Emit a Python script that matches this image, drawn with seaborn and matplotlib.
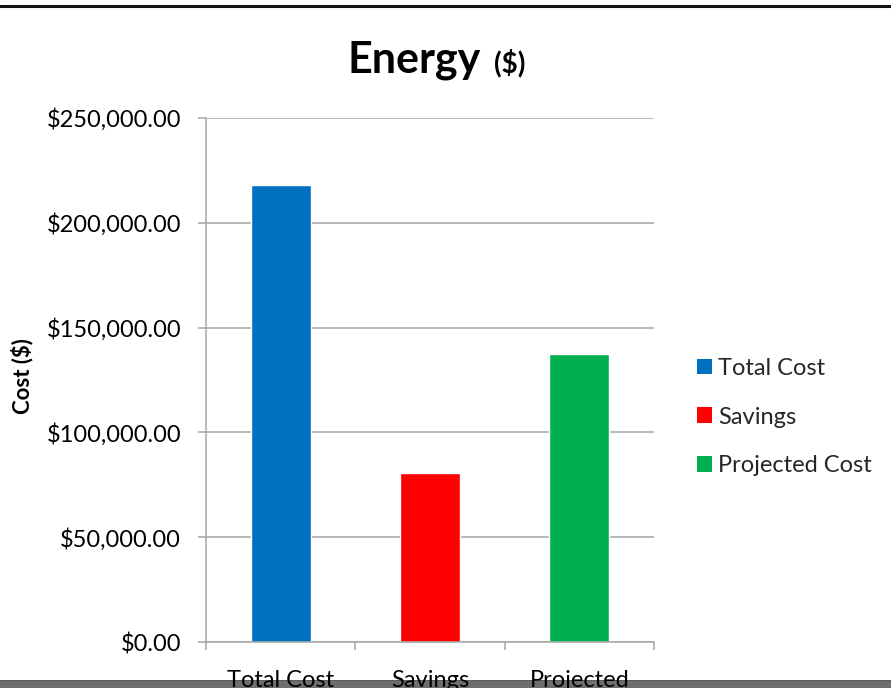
import matplotlib
matplotlib.use("Agg")
import matplotlib.pyplot as plt
import matplotlib.ticker as mticker
from matplotlib.patches import Rectangle, Patch
from matplotlib.lines import Line2D
import seaborn as sns
import pandas as pd

categories = ["Total Cost", "Savings", "Projected Cost"]
tick_labels = ["Total Cost", "Savings", "Projected"]
costs = [218000, 80600, 137500]
colors = ["#0070C0", "#FF0000", "#00B050"]

sns.set_theme(style="white")
plt.rcParams["font.family"] = ["Lato", "DejaVu Sans"]

df = pd.DataFrame({"item": categories, "cost": costs})

fig = plt.figure(figsize=(8.91, 6.88), dpi=100)
ax = fig.add_axes([206 / 891, 1 - 642 / 688, (654 - 206) / 891, (642 - 118) / 688])
ax.set_facecolor("none")

sns.barplot(data=df, x="item", y="cost", hue="item", order=categories,
            hue_order=categories, palette=colors, width=0.4, dodge=False,
            legend=False, ax=ax, saturation=1)

grid_c = "#A6A6A6"
ax.set_ylim(0, 250000)
ax.set_xlim(-0.5, 2.5)
ax.yaxis.set_major_locator(mticker.MultipleLocator(50000))
ax.yaxis.set_major_formatter(mticker.StrMethodFormatter("${x:,.2f}"))
ax.grid(axis="y", color=grid_c, linewidth=1.1)
ax.set_axisbelow(True)

ax.set_xticks(range(len(categories)))
ax.set_xticklabels(tick_labels)
ax.set_xticks([-0.5, 0.5, 1.5, 2.5], minor=True)
ax.tick_params(axis="x", which="major", length=0, pad=20.5, labelsize=17, labelcolor="#000000")
ax.tick_params(axis="x", which="minor", length=6, width=1.1, color=grid_c, direction="out")
ax.tick_params(axis="y", which="major", length=6, width=1.1, color=grid_c, direction="out",
               pad=12, labelsize=17, labelcolor="#000000")
ax.tick_params(bottom=True, left=True, which="both")

for side in ["top", "right"]:
    ax.spines[side].set_visible(False)
for side in ["left", "bottom"]:
    ax.spines[side].set_color(grid_c)
    ax.spines[side].set_linewidth(1.1)

ax.set_xlabel("")
ax.set_ylabel("")
fig.text(22 / 891, 1 - 376 / 688, "Cost ($)", rotation=90, fontsize=16,
         fontweight="bold", ha="center", va="center", color="#000000")

# Title in two sizes
fig.text(414 / 891, 1 - 73 / 688, "Energy", fontsize=31, fontweight="bold",
         ha="center", va="baseline", color="#000000")
fig.text(510 / 891, 1 - 72 / 688, "($)", fontsize=20, fontweight="bold",
         ha="center", va="baseline", color="#000000")

# Legend on the right
handles = [Patch(facecolor=c, edgecolor="none") for c in colors]
fig.legend(handles, categories, loc="center left",
           bbox_to_anchor=(697 / 891, 1 - 417 / 688), frameon=False,
           fontsize=17, handlelength=0.64, handleheight=0.64, handletextpad=0.25,
           labelspacing=1.18, borderaxespad=0, borderpad=0)

# Frame lines of the sheet
fig.add_artist(Line2D([0, 1], [1 - 6 / 688, 1 - 6 / 688], color="#111111",
                      linewidth=2.2, transform=fig.transFigure))
fig.patches.append(Rectangle((0, 0), 1, 7 / 688, transform=fig.transFigure,
                             facecolor="#6E6E6E", edgecolor="none", zorder=-1))
fig.add_artist(Line2D([0, 1], [7 / 688, 7 / 688], color="#3C3C3C", linewidth=1.2,
                      transform=fig.transFigure, zorder=-1))

fig.savefig("out.png", dpi=100)
